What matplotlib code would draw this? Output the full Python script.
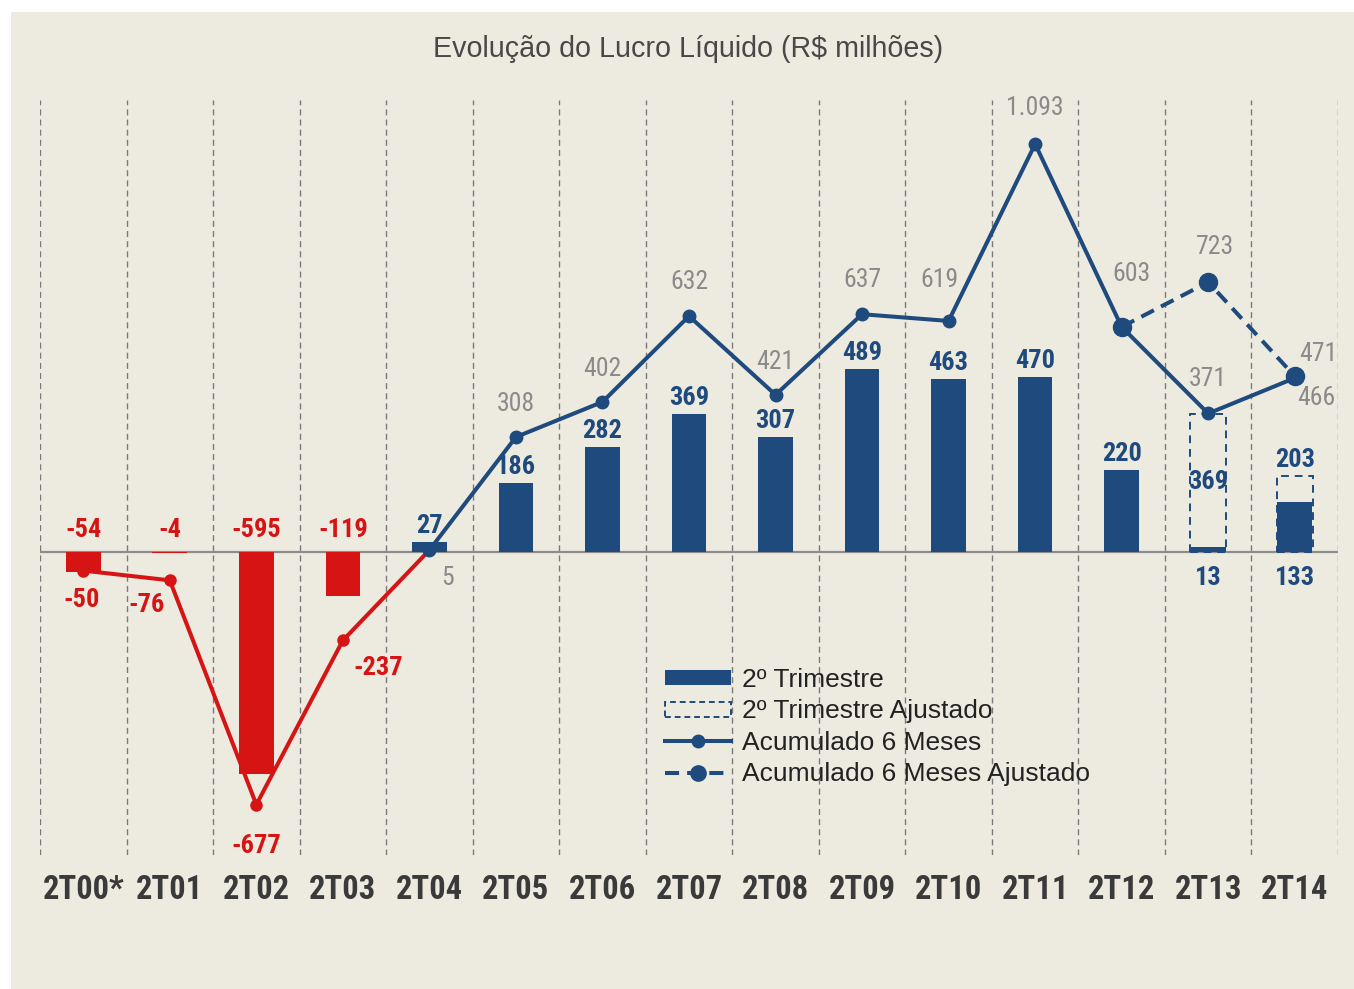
import matplotlib.pyplot as plt
from matplotlib.patches import Patch, Rectangle
from matplotlib.lines import Line2D

# Dados
categorias = ['2T00*', '2T01', '2T02', '2T03', '2T04', '2T05', '2T06', '2T07',
              '2T08', '2T09', '2T10', '2T11', '2T12', '2T13', '2T14']
trimestre = [-54, -4, -595, -119, 27, 186, 282, 369, 307, 489, 463, 470, 220, 13, 133]
ajust_idx = [13, 14]
trimestre_ajustado = [369, 203]
acumulado = [-50, -76, -677, -237, 5, 308, 402, 632, 421, 637, 619, 1093, 603, 371, 466]
acum_ajust_idx = [12, 13, 14]
acumulado_ajustado = [603, 723, 471]

AZUL = '#1f4a7d'
VERMELHO = '#d61414'
CINZA = '#8a8a8a'
FUNDO = '#edeae0'
NARROW = ['Roboto Condensed', 'DejaVu Sans']
SANS = ['Liberation Sans', 'DejaVu Sans']


def fmt(v):
    return f'{v:,}'.replace(',', '.')


fig = plt.figure(figsize=(13.54, 9.89), dpi=100)
fig.patch.set_facecolor('white')
fig.patches.append(Rectangle((11 / 1354, 0), 1 - 11 / 1354, 1 - 12 / 989,
                             transform=fig.transFigure, facecolor=FUNDO,
                             edgecolor='none', zorder=-10))

ax = fig.add_axes([40 / 1354, 1 - 855 / 989, 1298 / 1354, 755 / 989])
ax.set_facecolor('none')
ax.set_xlim(-0.5, len(categorias) - 0.5)
ax.set_ylim(-812, 1211)
for s in ax.spines.values():
    s.set_visible(False)

x = list(range(len(categorias)))

# linhas verticais tracejadas
for i in range(len(categorias) + 1):
    ax.axvline(i - 0.5, color='#7a7a7a', lw=1, ls=(0, (4.3, 3)), zorder=0)
ax.axhline(0, color='#8c8c8c', lw=1.6, zorder=1)

# barras
cores = [VERMELHO if v < 0 else AZUL for v in trimestre]
ax.bar(ajust_idx, trimestre_ajustado, width=0.42, fill=False, edgecolor=AZUL,
       lw=1.4, ls=(0, (4, 3)), zorder=2)
ax.bar(x, trimestre, width=0.4, color=cores, zorder=3)

# linhas acumuladas
ax.plot(x[:5], acumulado[:5], color=VERMELHO, lw=2.9, marker='o', ms=8, zorder=4)
ax.plot(x[4:], acumulado[4:], color=AZUL, lw=2.9, marker='o', ms=9, zorder=5)
ax.plot(acum_ajust_idx, acumulado_ajustado, color=AZUL, lw=2.9, ls=(0, (3.5, 2)),
        marker='o', ms=13, zorder=5)

# rótulos das barras (offset em pixels)
off_barra = {13: (0, -26), 14: (0, -26)}
for i, v in enumerate(trimestre):
    cor = VERMELHO if v < 0 else AZUL
    if v < 0:
        dx, dy, base = 0, 22, 0
    elif i in off_barra:
        (dx, dy), base = off_barra[i], 0
    else:
        dx, dy, base = 0, 16, v
    ax.annotate(fmt(v), (i, base), xytext=(dx, dy), textcoords='offset pixels',
                ha='center', va='center', fontsize=19, fontweight='bold',
                color=cor, family=NARROW, zorder=6)
ax.annotate(fmt(trimestre_ajustado[0]), (ajust_idx[0], trimestre_ajustado[0]),
            xytext=(0, -68), textcoords='offset pixels', ha='center', va='center',
            fontsize=19, fontweight='bold', color=AZUL, family=NARROW, zorder=6)
ax.annotate(fmt(trimestre_ajustado[1]), (ajust_idx[1], trimestre_ajustado[1]),
            xytext=(0, 16), textcoords='offset pixels', ha='center', va='center',
            fontsize=19, fontweight='bold', color=AZUL, family=NARROW, zorder=6)

# rótulos da linha acumulada
off_linha = [(-2, -29), (-23, -25), (0, -41), (35, -28), (18, -28),
             (0, 33), (0, 33), (0, 34), (0, 33), (0, 34), (-9, 41),
             (0, 36), (10, 53), (0, 34), (22, -20)]
for i, v in enumerate(acumulado):
    cor = VERMELHO if v < 0 else CINZA
    peso = 'bold' if v < 0 else 'normal'
    ax.annotate(fmt(v), (i, v), xytext=off_linha[i], textcoords='offset pixels',
                ha='center', va='center', fontsize=19 if v < 0 else 18.5,
                fontweight=peso, color=cor, family=NARROW, zorder=6)
off_ajust = {13: (7, 35), 14: (24, 22)}
for i, v in zip(acum_ajust_idx, acumulado_ajustado):
    if i in off_ajust:
        ax.annotate(fmt(v), (i, v), xytext=off_ajust[i], textcoords='offset pixels',
                    ha='center', va='center', fontsize=18.5, color=CINZA,
                    family=NARROW, zorder=6)

# eixo x
ax.set_xticks(x)
ax.set_xticklabels(categorias, fontsize=23.5, fontweight='bold', color='#3a3a3a',
                   family=NARROW)
ax.tick_params(axis='x', length=0, pad=14)
ax.set_yticks([])

fig.text(688 / 1354, 1 - 49 / 989, 'Evolução do Lucro Líquido (R$ milhões)',
         ha='center', va='center', fontsize=20.6, color='#484848', family=SANS)

# legenda
handles = [
    Patch(facecolor=AZUL, edgecolor='none'),
    Patch(facecolor='none', edgecolor=AZUL, ls=(0, (3, 2)), lw=1.4),
    Line2D([], [], color=AZUL, lw=2.9, marker='o', ms=9),
    Line2D([], [], color=AZUL, lw=2.9, ls=(0, (3.5, 2)), marker='o', ms=11),
]
nomes = ['2º Trimestre', '2º Trimestre Ajustado', 'Acumulado 6 Meses',
         'Acumulado 6 Meses Ajustado']
leg = ax.legend(handles, nomes, loc='upper left',
                bbox_to_anchor=((665 - 40) / 1298, (855 - 668) / 755),
                frameon=False, handlelength=2.5, handleheight=0.5,
                handletextpad=0.4, labelspacing=0.28, borderpad=0,
                borderaxespad=0, prop={'family': SANS, 'size': 19})
for t in leg.get_texts():
    t.set_color('#222222')

fig.savefig('out.png', dpi=100)
